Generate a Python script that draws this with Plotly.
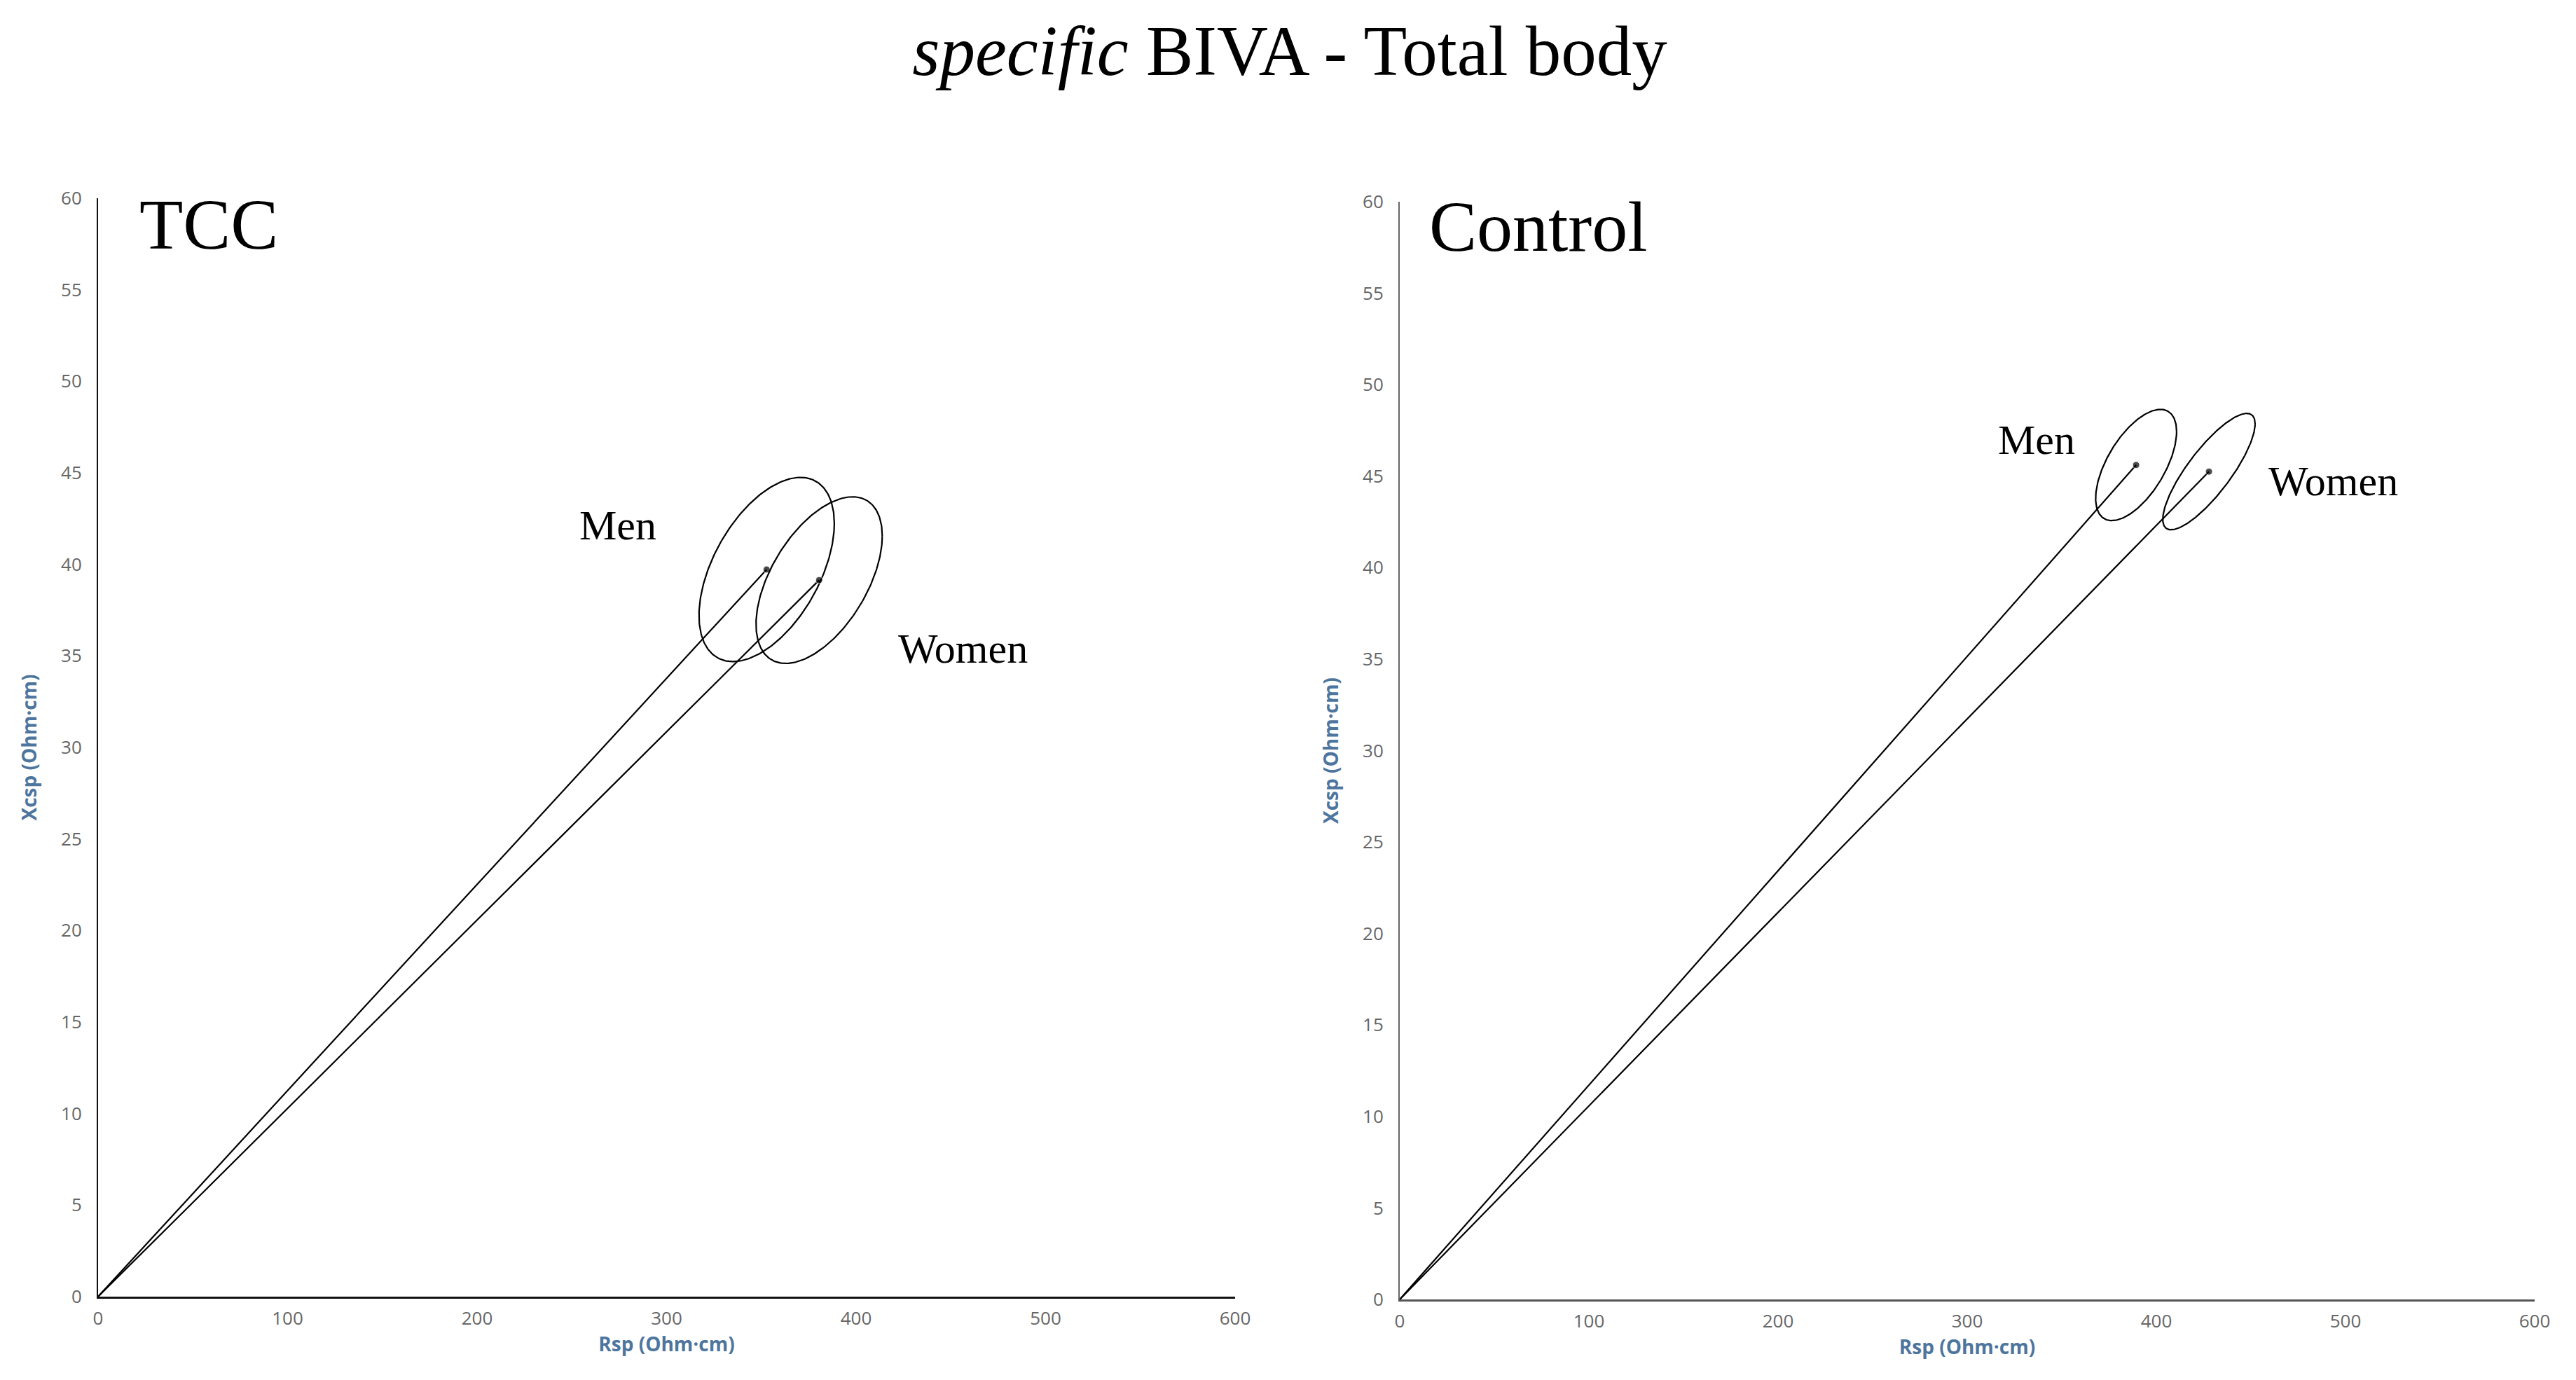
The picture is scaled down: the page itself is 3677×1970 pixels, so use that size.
import numpy as np
import plotly.graph_objects as go

# ---------------- data ----------------
groups = ["Men", "Women"]

# TCC panel: mean Rsp, mean Xcsp, half-extent (Rsp), half-extent (Xcsp), correlation
tcc_r_mean = [352.8, 380.5]
tcc_xc_mean = [39.72, 39.14]
tcc_r_sd = [35.7, 33.3]
tcc_xc_sd = [5.03, 4.55]
tcc_rho = [0.50, 0.53]

# Control panel
ctl_r_mean = [389.3, 427.8]
ctl_xc_mean = [45.61, 45.25]
ctl_r_sd = [21.4, 24.4]
ctl_xc_sd = [3.04, 3.18]
ctl_rho = [0.60, 0.82]

# label positions (data coords)
tcc_label_r = [274.3, 456.2]
tcc_label_xc = [42.13, 35.4]
ctl_label_r = [336.7, 493.7]
ctl_label_xc = [46.98, 44.72]

panel_titles = ["TCC", "Control"]
x_ticks = [0, 100, 200, 300, 400, 500, 600]
y_ticks = [0, 5, 10, 15, 20, 25, 30, 35, 40, 45, 50, 55, 60]

# ---------------- figure ----------------
W, H = 3677, 1970
OFF = 8  # page body margin


def px_x(p):
    return (p - OFF) / W


def px_y(p):
    return (H - (p - OFF)) / H


fig = go.Figure()


def ellipse(cx, cy, sx, sy, rho, n=240):
    t = np.linspace(0, 2 * np.pi, n)
    x = cx + sx * np.cos(t)
    y = cy + sy * (rho * np.cos(t) + np.sqrt(1 - rho ** 2) * np.sin(t))
    return x, y


panels = [
    ("x", "y", tcc_r_mean, tcc_xc_mean, tcc_r_sd, tcc_xc_sd, tcc_rho),
    ("x2", "y2", ctl_r_mean, ctl_xc_mean, ctl_r_sd, ctl_xc_sd, ctl_rho),
]
for xa, ya, rm, xm, rs, xs, rh in panels:
    for i, g in enumerate(groups):
        ex, ey = ellipse(rm[i], xm[i], rs[i], xs[i], rh[i])
        fig.add_trace(go.Scatter(x=ex, y=ey, mode="lines", xaxis=xa, yaxis=ya,
                                 line=dict(color="black", width=2.2),
                                 hoverinfo="skip", showlegend=False))
        fig.add_trace(go.Scatter(x=[0, rm[i]], y=[0, xm[i]], mode="lines+markers",
                                 xaxis=xa, yaxis=ya,
                                 line=dict(color="black", width=2.2),
                                 marker=dict(color="black", size=[0, 10]),
                                 name=g, showlegend=False))

tick_font = dict(family="Open Sans", size=26, color="#666666")
title_font = dict(family="Open Sans", size=28, color="#4d759e", weight="bold")

axis_common = dict(showgrid=False, zeroline=False, showline=True,
                   ticks="", tickfont=tick_font, automargin=False)

fig.update_layout(
    width=W, height=H, autosize=False,
    margin=dict(l=0, r=0, t=0, b=0),
    paper_bgcolor="white", plot_bgcolor="white",
    showlegend=False,
    title=dict(text="<i>specific</i> BIVA - Total body", x=px_x(1841), y=px_y(71.5),
               xanchor="center", yanchor="middle",
               font=dict(family="Liberation Serif", size=101, color="black")),
    xaxis=dict(domain=[px_x(140), px_x(1763)], range=[0, 600], tickvals=x_ticks,
               anchor="y", linecolor="#111111", linewidth=3,
               title=dict(text="Rsp (Ohm·cm)", font=title_font, standoff=9),
               ticklabelstandoff=6, **axis_common),
    yaxis=dict(domain=[px_y(1851), px_y(283)], range=[0, 60], tickvals=y_ticks,
               anchor="x", linecolor="#111111", linewidth=2,
               title=dict(text="Xcsp (Ohm·cm)", font=title_font, standoff=26),
               ticklabelstandoff=16, **axis_common),
    xaxis2=dict(domain=[px_x(1998), px_x(3618)], range=[0, 600], tickvals=x_ticks,
                anchor="y2", linecolor="#555555", linewidth=3,
                title=dict(text="Rsp (Ohm·cm)", font=title_font, standoff=9),
                ticklabelstandoff=6, **axis_common),
    yaxis2=dict(domain=[px_y(1855), px_y(288)], range=[0, 60], tickvals=y_ticks,
                anchor="x2", linecolor="#666666", linewidth=2,
                title=dict(text="Xcsp (Ohm·cm)", font=title_font, standoff=26),
                ticklabelstandoff=16, **axis_common),
)

serif = "Liberation Serif"
annots = []
# panel titles
annots.append(dict(x=21.1, y=58.55, xref="x", yref="y", text=panel_titles[0],
                   showarrow=False, xanchor="left", yanchor="middle",
                   font=dict(family=serif, size=102, color="black")))
annots.append(dict(x=14.8, y=58.65, xref="x2", yref="y2", text=panel_titles[1],
                   showarrow=False, xanchor="left", yanchor="middle",
                   font=dict(family=serif, size=102, color="black")))
for i, g in enumerate(groups):
    annots.append(dict(x=tcc_label_r[i], y=tcc_label_xc[i], xref="x", yref="y", text=g,
                       showarrow=False, xanchor="center", yanchor="middle",
                       font=dict(family=serif, size=60, color="black")))
    annots.append(dict(x=ctl_label_r[i], y=ctl_label_xc[i], xref="x2", yref="y2", text=g,
                       showarrow=False, xanchor="center", yanchor="middle",
                       font=dict(family=serif, size=60, color="black")))
fig.update_layout(annotations=annots)

fig.write_html("out.html")
